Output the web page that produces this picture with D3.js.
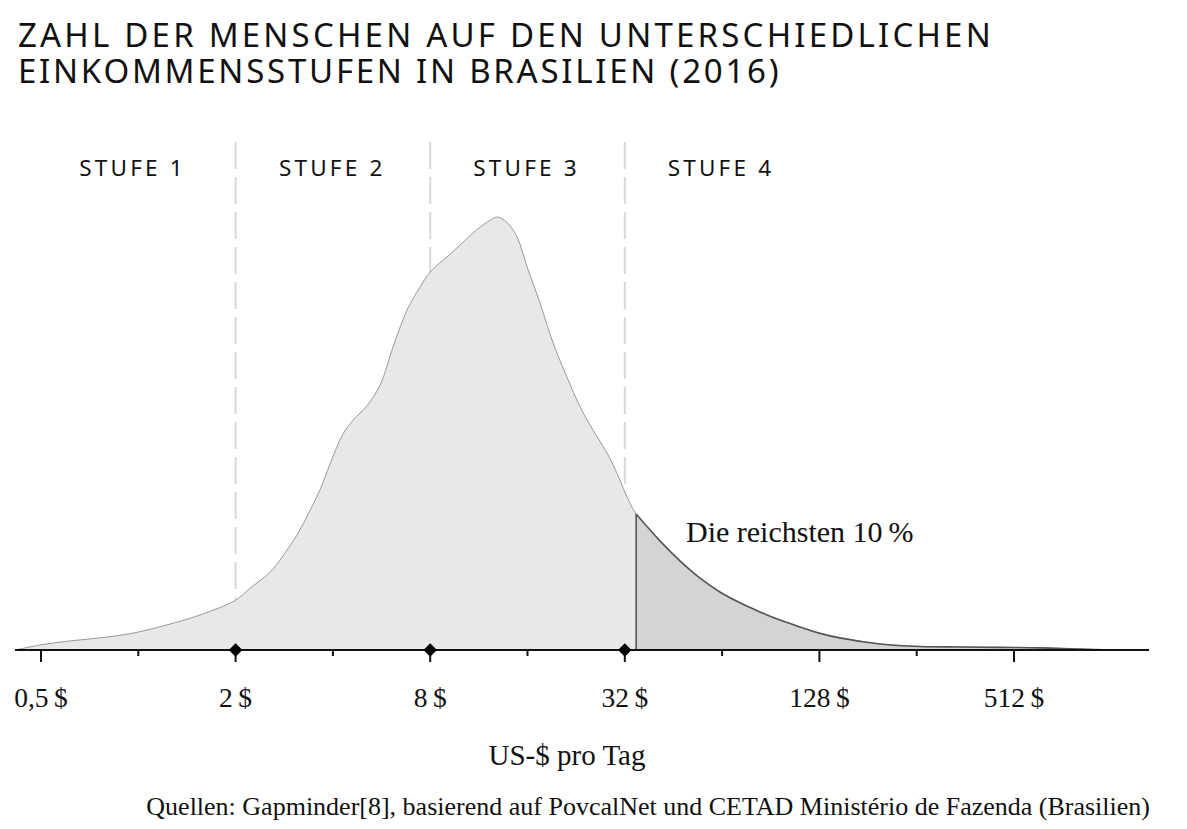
<!DOCTYPE html>
<html>
<head>
<meta charset="utf-8">
<script src="https://cdn.jsdelivr.net/npm/d3@7"></script>
<style>
  html, body { margin: 0; padding: 0; background: #fff; }
  svg { display: block; }
</style>
</head>
<body>
<svg id="chart" width="1187" height="829"></svg>
<script>
// ---------- DATA ----------
const titleLines = ["ZAHL DER MENSCHEN AUF DEN UNTERSCHIEDLICHEN", "EINKOMMENSSTUFEN IN BRASILIEN (2016)"];
// income in US$ per day (log2 axis) and relative density (peak = 100)
const income = [0.416, 0.5, 0.615, 0.761, 0.963, 1.227, 1.552, 2.0, 2.22, 2.56, 2.8, 3.1, 3.4, 3.65, 3.92, 4.3, 4.62, 5.1, 5.6, 6.14, 6.78, 7.44, 8.0, 9.02, 9.89, 10.85, 12.0, 12.9, 13.8, 14.85, 15.95, 17.5, 19.2, 21.2, 23.3, 25.5, 28.2, 30.9, 32.0, 34.7, 41.1, 47.4, 54.7, 63.0, 72.7, 83.8, 96.7, 111.5, 127.7, 148, 197, 262, 349, 463, 616, 819, 1051];
const density = [0, 1.2, 2.1, 2.8, 3.9, 5.8, 8.1, 11.5, 14.3, 18.0, 21.7, 26.6, 32.3, 37.0, 43.0, 49.9, 53.1, 56.4, 61.2, 70.0, 78.5, 83.8, 87.3, 90.8, 93.5, 96.3, 98.8, 100, 98.8, 95.4, 88.5, 80.1, 70.9, 63.0, 56.1, 50.8, 45.5, 39.3, 36.5, 31.4, 25.2, 20.6, 16.6, 13.4, 10.9, 8.8, 6.9, 5.3, 3.9, 2.8, 1.4, 0.8, 0.7, 0.6, 0.5, 0.2, 0];
const top10Threshold = 34.7;
const levelBounds = [2, 8, 32];
const levelLabels = ["STUFE 1", "STUFE 2", "STUFE 3", "STUFE 4"];
const levelLabelAt = [0.96, 3.98, 15.9, 63.5];
const majorTicks = [0.5, 2, 8, 32, 128, 512];
const majorTickLabels = ["0,5\u2009$", "2\u2009$", "8\u2009$", "32\u2009$", "128\u2009$", "512\u2009$"];
const minorTicks = [1, 4, 16, 64, 256];
const xAxisTitle = "US-$ pro Tag";
const annotation = "Die reichsten 10\u2009%";
const source = "Quellen: Gapminder[8], basierend auf PovcalNet und CETAD Ministério de Fazenda (Brasilien)";

// ---------- LAYOUT ----------
const svg = d3.select("#chart");
const x = d3.scaleLog().base(2).domain([0.5, 512]).range([41, 1014]);
const y = d3.scaleLinear().domain([0, 100]).range([650, 217]);
const baseY = y(0);

const data = income.map((v, i) => ({ v, d: density[i] }));

const serif = "'Liberation Serif', 'Times New Roman', serif";
const sans = "'Noto Sans', 'DejaVu Sans', sans-serif";

// Title (one text element, two lines)
const title = svg.append("text")
  .attr("font-family", sans)
  .attr("font-size", 33)
  .attr("fill", "#111");
title.selectAll("tspan").data(titleLines).join("tspan")
  .attr("x", 18)
  .attr("y", (d, i) => 47 + i * 36)
  .attr("letter-spacing", (d, i) => i === 0 ? 3.2 : 2.75)
  .text(d => d);

// Dashed stage boundaries
svg.selectAll("line.bound").data(levelBounds).join("line")
  .attr("class", "bound")
  .attr("x1", d => x(d)).attr("x2", d => x(d))
  .attr("y1", 142).attr("y2", baseY)
  .attr("stroke", "#d8d8d8")
  .attr("stroke-width", 2)
  .attr("stroke-dasharray", "27,8");

// Stage labels
svg.selectAll("text.level").data(levelLabels).join("text")
  .attr("class", "level")
  .attr("x", (d, i) => x(levelLabelAt[i]))
  .attr("y", 176)
  .attr("text-anchor", "middle")
  .attr("font-family", sans)
  .attr("font-size", 22.5)
  .attr("letter-spacing", 3.2)
  .attr("fill", "#111")
  .text(d => d);

// Density area
const curve = d3.curveCatmullRom.alpha(0.5);
const area = d3.area()
  .x(p => x(p.v))
  .y0(baseY)
  .y1(p => y(p.d))
  .curve(curve);
const line = d3.line()
  .x(p => x(p.v))
  .y(p => y(p.d))
  .curve(curve);

svg.append("path").datum(data)
  .attr("d", area)
  .attr("fill", "#e8e8e7");
svg.append("path").datum(data)
  .attr("d", line)
  .attr("fill", "none")
  .attr("stroke", "#999")
  .attr("stroke-width", 1);

const top10 = data.filter(p => p.v >= top10Threshold);
svg.append("path").datum(top10)
  .attr("d", area)
  .attr("fill", "#d5d4d3");
svg.append("path").datum(top10)
  .attr("d", line)
  .attr("fill", "none")
  .attr("stroke", "#555")
  .attr("stroke-width", 1.6);
svg.append("line")
  .attr("x1", x(top10[0].v)).attr("x2", x(top10[0].v))
  .attr("y1", y(top10[0].d)).attr("y2", baseY)
  .attr("stroke", "#555")
  .attr("stroke-width", 1.6);

// Annotation
svg.append("text")
  .attr("x", 686).attr("y", 542)
  .attr("font-family", serif)
  .attr("font-size", 30)
  .attr("fill", "#111")
  .text(annotation);

// Axis
const axisG = svg.append("g");
axisG.append("line")
  .attr("x1", 15).attr("x2", 1149)
  .attr("y1", baseY).attr("y2", baseY)
  .attr("stroke", "#111").attr("stroke-width", 2);
axisG.selectAll("line.major").data(majorTicks).join("line")
  .attr("class", "major")
  .attr("x1", d => x(d)).attr("x2", d => x(d))
  .attr("y1", baseY).attr("y2", baseY + 12)
  .attr("stroke", "#111").attr("stroke-width", 2);
axisG.selectAll("line.minor").data(minorTicks).join("line")
  .attr("class", "minor")
  .attr("x1", d => x(d)).attr("x2", d => x(d))
  .attr("y1", baseY).attr("y2", baseY + 6)
  .attr("stroke", "#111").attr("stroke-width", 2);
axisG.selectAll("path.diamond").data(levelBounds).join("path")
  .attr("class", "diamond")
  .attr("d", d3.symbol().type(d3.symbolSquare).size(92))
  .attr("transform", d => `translate(${x(d)},${baseY}) rotate(45)`)
  .attr("fill", "#000");
axisG.selectAll("text.tick").data(majorTicks).join("text")
  .attr("class", "tick")
  .attr("x", d => x(d))
  .attr("y", 707)
  .attr("text-anchor", "middle")
  .attr("font-family", serif)
  .attr("font-size", 27.5)
  .attr("fill", "#111")
  .text((d, i) => majorTickLabels[i]);

svg.append("text")
  .attr("x", 567).attr("y", 765)
  .attr("text-anchor", "middle")
  .attr("font-family", serif)
  .attr("font-size", 29)
  .attr("fill", "#111")
  .text(xAxisTitle);

svg.append("text")
  .attr("x", 1150).attr("y", 815)
  .attr("text-anchor", "end")
  .attr("font-family", serif)
  .attr("font-size", 26)
  .attr("fill", "#111")
  .text(source);
</script>
</body>
</html>
